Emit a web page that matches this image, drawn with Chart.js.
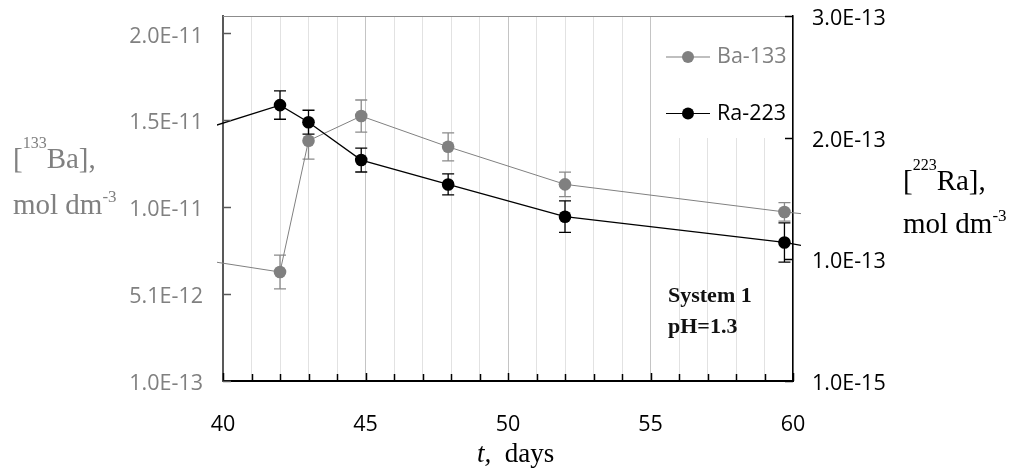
<!DOCTYPE html>
<html>
<head>
<meta charset="utf-8">
<script src="https://cdn.jsdelivr.net/npm/chart.js@4/dist/chart.umd.min.js"></script>
<style>
  html, body { margin: 0; padding: 0; background: #fff; }
</style>
</head>
<body>
<canvas id="myChart" width="1013" height="469"></canvas>
<script>
// data (first and last points sit just outside the x range)
const days = [38, 42, 43, 44.85, 47.9, 52, 59.7, 62];
const ba133 = [7.35e-12, 6.34e-12, 1.386e-11, 1.527e-11, 1.351e-11, 1.136e-11, 9.78e-12, 9.40e-12];
const ba133Err = [null, 9.7e-13, 1.05e-12, 9.2e-13, 8.0e-13, 7.0e-13, 5.3e-13, null];
const ra223 = [1.975e-13, 2.27e-13, 2.13e-13, 1.82e-13, 1.62e-13, 1.356e-13, 1.145e-13, 1.048e-13];
const ra223Err = [null, 1.16e-14, 9.8e-15, 9.8e-15, 8.6e-15, 1.29e-14, 1.61e-14, null];

const xLabels = [40, 45, 50, 55, 60];
const leftTicks = [1e-13, 5.075e-12, 1.005e-11, 1.5025e-11, 2.0e-11];
const leftTickLabels = ['1.0E-13', '5.1E-12', '1.0E-11', '1.5E-11', '2.0E-11'];
const rightTicks = [1e-15, 1.007e-13, 2.003e-13, 3.0e-13];
const rightTickLabels = ['1.0E-15', '1.0E-13', '2.0E-13', '3.0E-13'];

const GRAY = '#808080';
const TICK_FONT = {family: 'Open Sans', size: 21.5};

const myChart = document.getElementById('myChart');

function toPoints(xs, ys) {
  const pts = [];
  for (let i = 0; i < xs.length; i++) {
    pts.push({x: xs[i], y: ys[i]});
  }
  return pts;
}

// text with superscripts, parts = [[text, isSup], ...]
function richText(ctx, parts, x, y, size, supSize, raise, color) {
  ctx.fillStyle = color;
  ctx.textBaseline = 'alphabetic';
  ctx.textAlign = 'left';
  for (const [txt, sup] of parts) {
    ctx.font = (sup ? supSize : size) + 'px "Liberation Serif"';
    ctx.fillText(txt, x, sup ? y - raise : y);
    x += ctx.measureText(txt).width;
  }
}

// no extra room for half labels, the frame is placed by hand
function noPad(s) {
  s.paddingTop = 0; s.paddingBottom = 0;
  s.paddingLeft = 0; s.paddingRight = 0;
}

// vertical error bars, drawn just under each dataset
const errorBars = {
  id: 'errorBars',
  beforeDatasetDraw(chart, args) {
    const ds = chart.data.datasets[args.index];
    if (!ds.errors) return;
    const ctx = chart.ctx;
    const a = chart.chartArea;
    const xs = chart.scales.x;
    const ys = chart.scales[ds.yAxisID];
    ctx.save();
    ctx.beginPath();
    ctx.rect(a.left, a.top, a.right - a.left, a.bottom - a.top);
    ctx.clip();
    ctx.strokeStyle = ds.errColor;
    ctx.lineWidth = 1.3;
    for (let i = 0; i < ds.errors.length; i++) {
      const e = ds.errors[i];
      if (e == null) continue;
      const px = xs.getPixelForValue(ds.data[i].x);
      const top = ys.getPixelForValue(ds.data[i].y + e);
      const bot = ys.getPixelForValue(ds.data[i].y - e);
      ctx.beginPath();
      ctx.moveTo(px, top); ctx.lineTo(px, bot);
      ctx.moveTo(px - 6, top); ctx.lineTo(px + 6, top);
      ctx.moveTo(px - 6, bot); ctx.lineTo(px + 6, bot);
      ctx.stroke();
    }
    ctx.restore();
  }
};

// frame, inward ticks, legend, titles
const decorations = {
  id: 'decorations',
  beforeDatasetsDraw(chart) {
    const ctx = chart.ctx;
    const a = chart.chartArea;
    ctx.save();
    // legend box hides the grid
    ctx.fillStyle = '#fff';
    ctx.fillRect(660, a.top + 1, a.right - 661, 121);
    // top border
    ctx.strokeStyle = '#8c8c8c';
    ctx.lineWidth = 1;
    ctx.beginPath();
    ctx.moveTo(a.left, a.top + 0.5);
    ctx.lineTo(a.right, a.top + 0.5);
    ctx.stroke();
    ctx.restore();
  },
  afterDraw(chart) {
    const ctx = chart.ctx;
    const a = chart.chartArea;
    const xs = chart.scales.x, yl = chart.scales.yLeft, yr = chart.scales.yRight;
    ctx.save();

    // inward tick marks
    ctx.lineWidth = 1.5;
    ctx.strokeStyle = '#000';
    for (let d = 40; d <= 60; d++) {
      const px = Math.round(xs.getPixelForValue(d)) + 0.5;
      ctx.beginPath();
      ctx.moveTo(px, a.bottom);
      ctx.lineTo(px, a.bottom - (d % 5 === 0 ? 8 : 7));
      ctx.stroke();
    }
    ctx.strokeStyle = '#595959';
    for (const v of leftTicks) {
      const py = Math.round(yl.getPixelForValue(v)) + 0.5;
      ctx.beginPath();
      ctx.moveTo(a.left, py);
      ctx.lineTo(a.left + 8, py);
      ctx.stroke();
    }
    ctx.strokeStyle = '#000';
    for (const v of rightTicks) {
      const py = Math.round(yr.getPixelForValue(v)) + 0.5;
      ctx.beginPath();
      ctx.moveTo(a.right, py);
      ctx.lineTo(a.right - 8, py);
      ctx.stroke();
    }

    // legend
    const items = [['Ba-133', GRAY, 57], ['Ra-223', '#000', 113.5]];
    for (const [name, col, ly] of items) {
      ctx.strokeStyle = col;
      ctx.lineWidth = 1.2;
      ctx.beginPath();
      ctx.moveTo(666, ly); ctx.lineTo(710, ly);
      ctx.stroke();
      ctx.fillStyle = col;
      ctx.beginPath();
      ctx.arc(688, ly, 6, 0, Math.PI * 2);
      ctx.fill();
      ctx.font = '21.5px "Open Sans"';
      ctx.textBaseline = 'middle';
      ctx.textAlign = 'left';
      ctx.fillText(name, 717, ly);
    }

    // axis titles
    richText(ctx, [['[', 0], ['133', 1], ['Ba],', 0]], 13, 168, 29, 16, 20, GRAY);
    richText(ctx, [['mol dm', 0], ['-3', 1]], 13, 214, 29, 17, 12, GRAY);
    richText(ctx, [['[', 0], ['223', 1], ['Ra],', 0]], 903, 189.5, 29, 16, 20, '#000');
    richText(ctx, [['mol dm', 0], ['-3', 1]], 903, 233, 29, 17, 12, '#000');

    ctx.fillStyle = '#000';
    ctx.textBaseline = 'alphabetic';
    ctx.font = 'italic 27px "Liberation Serif"';
    ctx.fillText('t,', 477, 462);
    const tw = ctx.measureText('t,').width;
    ctx.font = '27px "Liberation Serif"';
    ctx.fillText('  days', 477 + tw, 462);

    // annotation
    ctx.font = 'bold 22px "Liberation Serif"';
    ctx.fillStyle = '#111';
    ctx.fillText('System 1', 668, 302);
    ctx.fillText('pH=1.3', 668, 333);

    ctx.restore();
  }
};

new Chart(myChart, {
  type: 'line',
  data: {
    datasets: [{
      label: 'Ra-223',
      data: toPoints(days, ra223),
      errors: ra223Err,
      errColor: '#000',
      yAxisID: 'yRight',
      borderColor: '#000',
      borderWidth: 1.3,
      pointRadius: 6.3,
      pointBorderWidth: 0,
      pointBackgroundColor: '#000',
      clip: {left: 6, right: 8, top: 0, bottom: 0}
    }, {
      label: 'Ba-133',
      data: toPoints(days, ba133),
      errors: ba133Err,
      errColor: '#8a8a8a',
      yAxisID: 'yLeft',
      borderColor: GRAY,
      borderWidth: 1,
      pointRadius: 6.3,
      pointBorderWidth: 0,
      pointBackgroundColor: GRAY,
      clip: {left: 6, right: 8, top: 0, bottom: 0}
    }]
  },
  options: {
    responsive: false,
    animation: false,
    layout: {padding: {top: 16, left: 0, right: 0, bottom: 0}},
    plugins: {
      legend: {display: false},
      tooltip: {enabled: false}
    },
    scales: {
      x: {
        type: 'linear',
        min: 40,
        max: 60,
        afterFit: (s) => { s.height = 88; noPad(s); },
        afterBuildTicks: (s) => {
          const t = [];
          for (let d = 40; d <= 60; d++) t.push({value: d});
          s.ticks = t;
        },
        grid: {
          drawTicks: false,
          color: (c) => (c.tick && xLabels.includes(c.tick.value)) ? '#c4c4c4' : '#e2e2e2',
          lineWidth: 1
        },
        border: {color: '#000', width: 2},
        ticks: {
          autoSkip: false,
          maxRotation: 0,
          padding: 31,
          color: '#000',
          font: TICK_FONT,
          callback: (v) => xLabels.includes(v) ? String(v) : ''
        }
      },
      yLeft: {
        type: 'linear',
        position: 'left',
        min: 1e-13,
        max: 2.1e-11,
        afterFit: (s) => { s.width = 223; noPad(s); },
        afterBuildTicks: (s) => { s.ticks = leftTicks.map(v => ({value: v})); },
        grid: {drawOnChartArea: false, drawTicks: false},
        border: {color: '#595959', width: 2},
        ticks: {
          autoSkip: false,
          padding: 20,
          labelOffset: 3,
          color: GRAY,
          font: TICK_FONT,
          callback: (v, i) => leftTickLabels[i]
        }
      },
      yRight: {
        type: 'linear',
        position: 'right',
        min: 1e-15,
        max: 3.0e-13,
        afterFit: (s) => { s.width = 220; noPad(s); },
        afterBuildTicks: (s) => { s.ticks = rightTicks.map(v => ({value: v})); },
        grid: {drawOnChartArea: false, drawTicks: false},
        border: {color: '#000', width: 1.5},
        ticks: {
          autoSkip: false,
          padding: 19,
          labelOffset: 3,
          color: '#000',
          font: TICK_FONT,
          callback: (v, i) => rightTickLabels[i]
        }
      }
    }
  },
  plugins: [errorBars, decorations]
});
</script>
</body>
</html>
